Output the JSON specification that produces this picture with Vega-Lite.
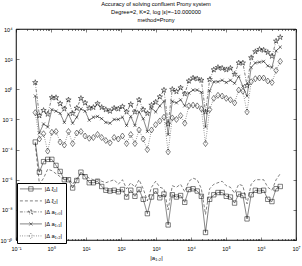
{
  "$schema": "https://vega.github.io/schema/vega-lite/v6.json",
  "width": 280,
  "height": 211,
  "autosize": {"type": "none"},
  "padding": {"left": 16, "top": 29, "right": 6, "bottom": 26},
  "background": "white",
  "title": {
    "text": ["Accuracy of solving confluent Prony system", "Degree=2, K=2, log |ε|=−10.000000", "method=Prony"],
    "font": "Liberation Sans", "fontSize": 5.7, "fontWeight": "normal", "lineHeight": 8, "offset": 4, "anchor": "middle", "color": "black"
  },
  "config": {
    "view": {"stroke": "black", "strokeWidth": 0.6},
    "font": "Liberation Sans",
    "axis": {"grid": false, "domainColor": "black", "domainWidth": 0.6, "tickColor": "black", "tickWidth": 0.5, "labelColor": "black", "labelFont": "Liberation Sans", "labelFontSize": 5.5, "labelFlush": false, "labelBound": false, "labelOverlap": false}
  },
  "data": {"values": [
    {"x": 0.3548, "xi1": 3.16e-4, "xi2": 2.51e-4, "a10": 2.82, "a11": 0.355, "a12": 0.0282},
    {"x": 0.4663, "xi1": 3.16e-6, "xi2": 5.01e-7, "a10": 0.0178, "a11": 1.26e-3, "a12": 5.01e-4},
    {"x": 0.6128, "xi1": 1.58e-5, "xi2": 1.26e-6, "a10": 0.0398, "a11": 5.01e-3, "a12": 1.12e-3},
    {"x": 0.8051, "xi1": 2.24e-5, "xi2": 5.01e-6, "a10": 0.0224, "a11": 3.16e-3, "a12": 7.94e-5},
    {"x": 1.058, "xi1": 2.24e-5, "xi2": 3.98e-6, "a10": 0.282, "a11": 0.0447, "a12": 1.41e-3},
    {"x": 1.391, "xi1": 8.91e-6, "xi2": 2.51e-6, "a10": 0.282, "a11": 0.0355, "a12": 1.58e-3},
    {"x": 1.827, "xi1": 3.55e-6, "xi2": 1.58e-6, "a10": 0.112, "a11": 0.0251, "a12": 3.16e-4},
    {"x": 2.402, "xi1": 1e-6, "xi2": 1e-6, "a10": 0.0501, "a11": 6.31e-3, "a12": 2e-4},
    {"x": 3.156, "xi1": 1e-6, "xi2": 1.26e-6, "a10": 0.2, "a11": 0.0224, "a12": 1.58e-3},
    {"x": 4.148, "xi1": 2.82e-7, "xi2": 5.01e-7, "a10": 0.0251, "a11": 5.62e-3, "a12": 2.51e-4},
    {"x": 5.451, "xi1": 8.91e-7, "xi2": 1.26e-6, "a10": 0.0562, "a11": 0.0141, "a12": 1.26e-3},
    {"x": 7.164, "xi1": 3.16e-6, "xi2": 2.51e-6, "a10": 0.251, "a11": 0.0501, "a12": 1.58e-3},
    {"x": 9.412, "xi1": 1.58e-6, "xi2": 2e-6, "a10": 0.126, "a11": 0.0355, "a12": 7.94e-4},
    {"x": 12.37, "xi1": 6.31e-7, "xi2": 1.26e-6, "a10": 0.0562, "a11": 8.91e-3, "a12": 5.62e-4},
    {"x": 16.26, "xi1": 6.31e-7, "xi2": 1e-6, "a10": 0.0631, "a11": 0.0141, "a12": 6.31e-4},
    {"x": 21.37, "xi1": 7.94e-7, "xi2": 1e-6, "a10": 0.112, "a11": 0.0158, "a12": 1e-3},
    {"x": 28.07, "xi1": 3.55e-7, "xi2": 7.94e-7, "a10": 0.0631, "a11": 0.0112, "a12": 6.31e-4},
    {"x": 36.89, "xi1": 2e-7, "xi2": 6.31e-7, "a10": 0.0447, "a11": 6.31e-3, "a12": 3.98e-4},
    {"x": 48.48, "xi1": 1.78e-7, "xi2": 7.94e-7, "a10": 0.0355, "a11": 5.62e-3, "a12": 2.82e-4},
    {"x": 63.71, "xi1": 2e-7, "xi2": 1e-6, "a10": 0.0562, "a11": 0.01, "a12": 6.31e-4},
    {"x": 83.74, "xi1": 1.58e-7, "xi2": 5.01e-7, "a10": 0.0501, "a11": 0.01, "a12": 5.01e-4},
    {"x": 110.0, "xi1": 2.24e-7, "xi2": 1e-6, "a10": 0.0708, "a11": 0.0141, "a12": 7.94e-4},
    {"x": 144.6, "xi1": 7.08e-8, "xi2": 2.51e-7, "a10": 0.0316, "a11": 3.98e-3, "a12": 2.51e-4},
    {"x": 190.0, "xi1": 2e-7, "xi2": 6.31e-7, "a10": 0.1, "a11": 0.0158, "a12": 1e-3},
    {"x": 249.7, "xi1": 7.94e-8, "xi2": 3.16e-7, "a10": 0.0316, "a11": 3.98e-3, "a12": 2.51e-4},
    {"x": 328.1, "xi1": 2.24e-7, "xi2": 1e-6, "a10": 0.2, "a11": 0.0316, "a12": 2e-3},
    {"x": 431.2, "xi1": 5.01e-8, "xi2": 2.51e-7, "a10": 0.0447, "a11": 0.0112, "a12": 5.01e-4},
    {"x": 566.8, "xi1": 5.62e-9, "xi2": 3.98e-8, "a10": 0.0251, "a11": 1.58e-3, "a12": 1e-4},
    {"x": 744.7, "xi1": 7.08e-8, "xi2": 3.16e-7, "a10": 0.0891, "a11": 0.0562, "a12": 2e-3},
    {"x": 978.8, "xi1": 1.78e-7, "xi2": 7.94e-7, "a10": 0.141, "a11": 0.0316, "a12": 4.47e-3},
    {"x": 1286, "xi1": 6.31e-8, "xi2": 3.16e-7, "a10": 0.316, "a11": 0.0794, "a12": 7.94e-3},
    {"x": 1690, "xi1": 1.12e-7, "xi2": 2.51e-7, "a10": 0.891, "a11": 0.158, "a12": 0.0141},
    {"x": 2221, "xi1": 1e-9, "xi2": 1e-8, "a10": 5.01e-3, "a11": 1e-3, "a12": 7.08e-5},
    {"x": 2919, "xi1": 1e-7, "xi2": 3.98e-7, "a10": 1.0, "a11": 0.158, "a12": 0.0126},
    {"x": 3836, "xi1": 7.08e-8, "xi2": 3.16e-7, "a10": 0.708, "a11": 0.126, "a12": 0.01},
    {"x": 5040, "xi1": 8.91e-8, "xi2": 5.01e-7, "a10": 1.26, "a11": 0.2, "a12": 0.0178},
    {"x": 6625, "xi1": 3.16e-8, "xi2": 1.58e-7, "a10": 0.501, "a11": 0.0794, "a12": 5.62e-3},
    {"x": 8706, "xi1": 2.24e-7, "xi2": 7.94e-7, "a10": 3.55, "a11": 0.562, "a12": 0.0794},
    {"x": 11443, "xi1": 2.51e-7, "xi2": 1.26e-6, "a10": 5.62, "a11": 0.891, "a12": 0.0891},
    {"x": 15037, "xi1": 1.78e-7, "xi2": 1e-6, "a10": 5.01, "a11": 0.891, "a12": 0.0794},
    {"x": 19763, "xi1": 7.94e-8, "xi2": 2.51e-7, "a10": 3.98, "a11": 0.631, "a12": 0.0501},
    {"x": 25970, "xi1": 3.16e-10, "xi2": 5.01e-9, "a10": 0.0316, "a11": 3.16e-3, "a12": 2.51e-4},
    {"x": 34131, "xi1": 5.01e-8, "xi2": 2.51e-7, "a10": 4.47, "a11": 0.794, "a12": 0.0447},
    {"x": 44853, "xi1": 1e-7, "xi2": 5.01e-7, "a10": 19.95, "a11": 3.16, "a12": 0.251},
    {"x": 58943, "xi1": 1.41e-7, "xi2": 6.31e-7, "a10": 28.2, "a11": 3.16, "a12": 0.398},
    {"x": 77446, "xi1": 1.41e-7, "xi2": 7.94e-7, "a10": 25.1, "a11": 3.98, "a12": 0.355},
    {"x": 101766, "xi1": 7.94e-8, "xi2": 3.98e-7, "a10": 19.95, "a11": 2.82, "a12": 0.251},
    {"x": 133750, "xi1": 7.08e-8, "xi2": 3.16e-7, "a10": 25.1, "a11": 3.98, "a12": 0.2},
    {"x": 175759, "xi1": 2.82e-8, "xi2": 1.26e-7, "a10": 10, "a11": 2.51, "a12": 0.126},
    {"x": 230997, "xi1": 1.12e-7, "xi2": 5.01e-7, "a10": 56.2, "a11": 7.08, "a12": 0.891},
    {"x": 303565, "xi1": 8.91e-8, "xi2": 3.98e-7, "a10": 56.2, "a11": 1.58, "a12": 0.741},
    {"x": 398941, "xi1": 2.51e-9, "xi2": 2.51e-8, "a10": 1.78, "a11": 0.355, "a12": 0.0316},
    {"x": 524324, "xi1": 1e-7, "xi2": 5.01e-7, "a10": 125.9, "a11": 28.2, "a12": 3.16},
    {"x": 688973, "xi1": 2e-7, "xi2": 1e-6, "a10": 316, "a11": 56.2, "a12": 5.01},
    {"x": 905450, "xi1": 1.78e-7, "xi2": 1e-6, "a10": 447, "a11": 63.1, "a12": 5.62},
    {"x": 1189900, "xi1": 2e-7, "xi2": 1e-6, "a10": 398, "a11": 70.8, "a12": 5.62},
    {"x": 1563700, "xi1": 5.01e-8, "xi2": 3.16e-7, "a10": 282, "a11": 35.5, "a12": 3.55},
    {"x": 2054900, "xi1": 3.55e-8, "xi2": 2e-7, "a10": 158, "a11": 28.2, "a12": 2.82},
    {"x": 2700600, "xi1": 2.51e-7, "xi2": 1e-6, "a10": 1585, "a11": 355, "a12": 17.8},
    {"x": 3548100, "xi1": 3.55e-7, "xi2": 2.51e-6, "a10": 2818, "a11": 631, "a12": 70.8}
  ]},
  "transform": [{"fold": ["xi1", "xi2", "a10", "a11", "a12"], "as": ["series", "value"]}],
  "layer": [
    {
      "mark": {"type": "line", "color": "black", "strokeWidth": 0.5},
      "encoding": {
        "x": {"field": "x", "type": "quantitative", "scale": {"type": "log", "domain": [0.1, 10000000]},
          "axis": {"orient": "bottom",
            "values": [0.1,0.2,0.3,0.4,0.5,0.6,0.7,0.8,0.9,1,2,3,4,5,6,7,8,9,10,20,30,40,50,60,70,80,90,100,200,300,400,500,600,700,800,900,1000,2000,3000,4000,5000,6000,7000,8000,9000,10000,20000,30000,40000,50000,60000,70000,80000,90000,100000,200000,300000,400000,500000,600000,700000,800000,900000,1000000,2000000,3000000,4000000,5000000,6000000,7000000,8000000,9000000,10000000],
            "tickSize": {"condition": {"test": "abs(log(datum.value)/LN10 - round(log(datum.value)/LN10)) < 0.001", "value": -3}, "value": -1.5},
            "labelPadding": 9,
            "labelExpr": "abs(log(datum.value)/LN10 - round(log(datum.value)/LN10)) < 0.001 ? '10' + (round(log(datum.value)/LN10) < 0 ? '⁻' : '') + (abs(round(log(datum.value)/LN10)) == 10 ? '¹⁰' : ['⁰','¹','²','³','⁴','⁵','⁶','⁷','⁸','⁹'][abs(round(log(datum.value)/LN10))]) : ''",
            "title": "|a₁,₂|", "titleFont": "Liberation Sans", "titleFontSize": 6, "titleFontWeight": "normal", "titleColor": "black", "titlePadding": 1}},
        "y": {"field": "value", "type": "quantitative", "scale": {"type": "log", "domain": [1e-10, 10000]},
          "axis": {"orient": "left", "values": [1e-10, 1e-8, 1e-6, 1e-4, 0.01, 1, 100, 10000], "tickSize": -3, "labelPadding": 7,
            "labelExpr": "'10' + (round(log(datum.value)/LN10) < 0 ? '⁻' : '') + (abs(round(log(datum.value)/LN10)) == 10 ? '¹⁰' : ['⁰','¹','²','³','⁴','⁵','⁶','⁷','⁸','⁹'][abs(round(log(datum.value)/LN10))])",
            "title": null}},
        "strokeDash": {"field": "series", "type": "nominal",
          "scale": {"domain": ["xi1", "xi2", "a10", "a11", "a12"], "range": [[1, 0], [3, 2], [3, 1.5, 0.8, 1.5], [1, 0], [0.8, 1.5]]},
          "legend": {"orient": "none", "legendX": 1, "legendY": 154, "title": null, "padding": 3,
            "fillColor": "white", "strokeColor": "black", "symbolSize": 16, "symbolOffset": 8, "labelOffset": 11, "rowPadding": 4,
            "labelFont": "Liberation Sans", "labelFontSize": 5.8, "labelColor": "black",
            "symbolStrokeWidth": 0.5, "symbolStrokeColor": "black", "symbolFillColor": "transparent",
            "labelExpr": "datum.value == 'xi1' ? '|Δ ξ₁|' : datum.value == 'xi2' ? '|Δ ξ₂|' : datum.value == 'a10' ? '|Δ a₁,₀|' : datum.value == 'a11' ? '|Δ a₁,₁|' : '|Δ a₁,₂|'",
            "encode": {"symbols": {"update": {"shape": {"signal": "datum.value == 'xi1' ? 'M-5.5,0L5.5,0M-1.1,-1.1L1.1,-1.1L1.1,1.1L-1.1,1.1Z' : datum.value == 'xi2' ? 'M-5.5,0L5.5,0' : datum.value == 'a10' ? 'M-5.5,0L5.5,0M0,-1.4L0.314,-0.433L1.331,-0.433L0.508,0.165L0.823,1.133L0,0.535L-0.823,1.133L-0.508,0.165L-1.331,-0.433L-0.314,-0.433Z' : datum.value == 'a11' ? 'M-5.5,0L5.5,0M-0.8,-0.8L0.8,0.8M-0.8,0.8L0.8,-0.8' : 'M-5.5,0L5.5,0M-1.1,0L0,-1.5L1.1,0L0,1.5Z'"}}}}}
        }
      }
    },
    {
      "transform": [{"filter": "datum.series == 'xi1'"}],
      "mark": {"type": "point", "filled": false, "stroke": "black", "strokeWidth": 0.5, "size": 16, "opacity": 1, "shape": "M-1.1,-1.1L1.1,-1.1L1.1,1.1L-1.1,1.1Z"},
      "encoding": {
        "x": {"field": "x", "type": "quantitative", "scale": {"type": "log", "domain": [0.1, 10000000]},
          "axis": {"orient": "top", "labels": false, "title": null,
            "values": [0.1,0.2,0.3,0.4,0.5,0.6,0.7,0.8,0.9,1,2,3,4,5,6,7,8,9,10,20,30,40,50,60,70,80,90,100,200,300,400,500,600,700,800,900,1000,2000,3000,4000,5000,6000,7000,8000,9000,10000,20000,30000,40000,50000,60000,70000,80000,90000,100000,200000,300000,400000,500000,600000,700000,800000,900000,1000000,2000000,3000000,4000000,5000000,6000000,7000000,8000000,9000000,10000000],
            "tickSize": {"condition": {"test": "abs(log(datum.value)/LN10 - round(log(datum.value)/LN10)) < 0.001", "value": -3}, "value": -1.5}}},
        "y": {"field": "value", "type": "quantitative", "scale": {"type": "log", "domain": [1e-10, 10000]},
          "axis": {"orient": "right", "labels": false, "title": null, "values": [1e-10, 1e-8, 1e-6, 1e-4, 0.01, 1, 100, 10000], "tickSize": -3}}
      }
    },
    {
      "transform": [{"filter": "datum.series == 'a10'"}],
      "mark": {"type": "point", "filled": false, "stroke": "black", "strokeWidth": 0.5, "size": 16, "opacity": 1, "shape": "M0,-1.4L0.314,-0.433L1.331,-0.433L0.508,0.165L0.823,1.133L0,0.535L-0.823,1.133L-0.508,0.165L-1.331,-0.433L-0.314,-0.433Z"},
      "encoding": {
        "x": {"field": "x", "type": "quantitative", "axis": null},
        "y": {"field": "value", "type": "quantitative", "axis": null}
      }
    },
    {
      "transform": [{"filter": "datum.series == 'a11'"}],
      "mark": {"type": "point", "filled": false, "stroke": "black", "strokeWidth": 0.5, "size": 16, "opacity": 1, "shape": "M-0.8,-0.8L0.8,0.8M-0.8,0.8L0.8,-0.8"},
      "encoding": {
        "x": {"field": "x", "type": "quantitative", "axis": null},
        "y": {"field": "value", "type": "quantitative", "axis": null}
      }
    },
    {
      "transform": [{"filter": "datum.series == 'a12'"}],
      "mark": {"type": "point", "filled": false, "stroke": "black", "strokeWidth": 0.5, "size": 16, "opacity": 1, "shape": "M-1.1,0L0,-1.5L1.1,0L0,1.5Z"},
      "encoding": {
        "x": {"field": "x", "type": "quantitative", "axis": null},
        "y": {"field": "value", "type": "quantitative", "axis": null}
      }
    }
  ],
  "resolve": {"axis": {"x": "independent", "y": "independent"}}
}
